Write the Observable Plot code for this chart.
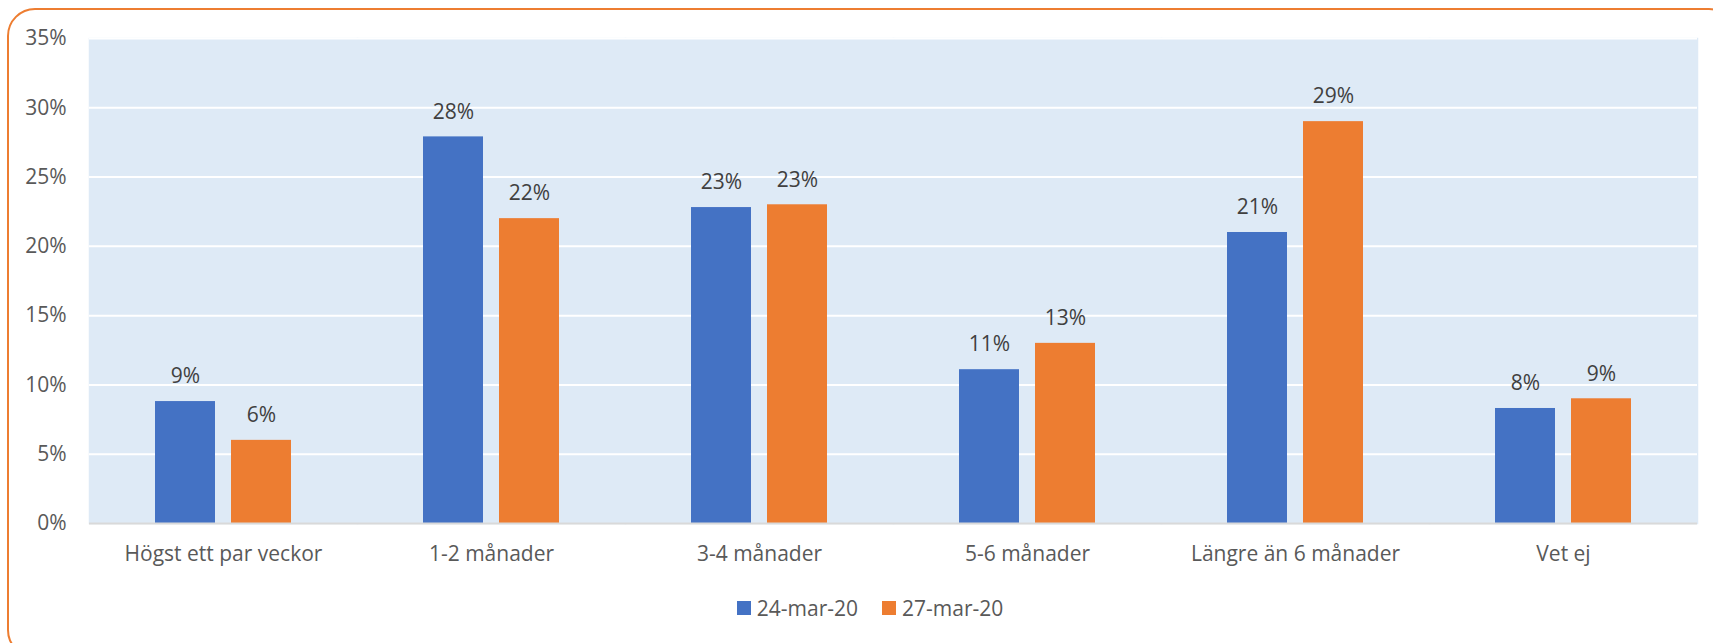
<!DOCTYPE html>
<html>
<head>
<meta charset="utf-8">
<script src="https://cdn.jsdelivr.net/npm/d3@7"></script>
<script src="https://cdn.jsdelivr.net/npm/@observablehq/plot@0.6"></script>
<style>
  html, body { margin: 0; padding: 0; background: #fff; width: 1713px; height: 643px; overflow: hidden; font-family: "Open Sans", sans-serif; }
  #box { position: absolute; left: 7px; top: 8px; width: 1730px; height: 650px; border: 2px solid #ED7D31; border-radius: 28px; box-sizing: border-box; }
  #chart { position: absolute; left: 0; top: 0; }
  #legend { position: absolute; top: 594px; left: 0; width: 1740px; display: flex; justify-content: center; gap: 24px; font-size: 21px; color: #595959; }
  .item { display: flex; align-items: center; gap: 6px; }
  .sw { width: 14px; height: 14px; display: inline-block; }
</style>
</head>
<body>
<div id="box"></div>
<div id="chart"></div>
<div id="legend"></div>
<script>
const categories = ["Högst ett par veckor", "1-2 månader", "3-4 månader", "5-6 månader", "Längre än 6 månader", "Vet ej"];
const seriesNames = ["24-mar-20", "27-mar-20"];
const mar24 = [8.8, 27.9, 22.8, 11.1, 21, 8.3];
const mar27 = [6, 22, 23, 13, 29, 9];
const yTicks = [0, 5, 10, 15, 20, 25, 30, 35];
const colors = ["#4472C4", "#ED7D31"];

const data = [];
categories.forEach((c, i) => {
  data.push({cat: c, series: seriesNames[0], value: mar24[i]});
  data.push({cat: c, series: seriesNames[1], value: mar27[i]});
});

const chart = Plot.plot({
  width: 1713,
  height: 585,
  marginLeft: 88,
  marginRight: 16,
  marginTop: 38,
  marginBottom: 62,
  style: {fontFamily: "Open Sans, sans-serif", fontSize: "21px", color: "#595959", background: "transparent"},
  fx: {domain: categories, padding: 0, label: null, axis: "bottom", tickSize: 0, tickPadding: 23},
  x: {domain: seriesNames, paddingInner: 0.21, paddingOuter: 0.868, axis: null},
  y: {domain: [0, 35], ticks: yTicks, tickFormat: d => d + "%", label: null, tickSize: 0, tickPadding: 23},
  color: {domain: seriesNames, range: colors},
  marks: [
    Plot.frame({fill: "#DEEAF6", stroke: "#DEEAF6", strokeWidth: 1.5}),
    Plot.gridY(yTicks.filter(t => t > 0), {stroke: "#fff", strokeOpacity: 1, strokeWidth: 2}),
    Plot.barY(data, {fx: "cat", x: "series", y: "value", fill: "series", inset: 0}),
    Plot.ruleY([0], {stroke: "#D9D9D9", strokeWidth: 2}),
    Plot.text(data, {fx: "cat", x: "series", y: "value", text: d => Math.round(d.value) + "%", dy: -25, fill: "#404040", fontSize: 21})
  ]
});
document.getElementById("chart").appendChild(chart);

const legend = document.getElementById("legend");
seriesNames.forEach((s, i) => {
  const it = document.createElement("div");
  it.className = "item";
  it.innerHTML = `<span class="sw" style="background:${colors[i]}"></span><span>${s}</span>`;
  legend.appendChild(it);
});
</script>
</body>
</html>
